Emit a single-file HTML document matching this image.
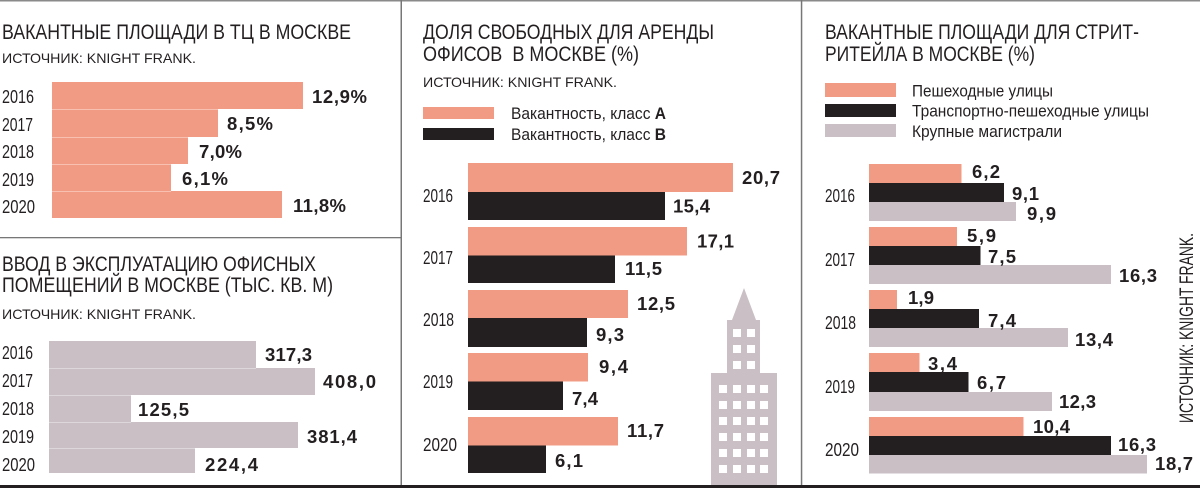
<!DOCTYPE html>
<html><head><meta charset="utf-8">
<style>
html,body{margin:0;padding:0;background:#fff;}
svg{display:block;}
text{font-family:"Liberation Sans Narrow","Liberation Sans",sans-serif;fill:#231f20;white-space:pre;}
.t{font-size:21px;}
.s{font-size:14px;}
.y{font-size:18px;}
.v{font-size:18.5px;font-weight:bold;font-family:"Liberation Sans",sans-serif;}
.l{font-size:16.5px;}
</style></head>
<body>
<svg width="1200" height="488" viewBox="0 0 1200 488" xmlns="http://www.w3.org/2000/svg">
<rect x="0" y="0" width="1200" height="488" fill="#fff"/>
<!-- frame lines -->
<rect x="0" y="0" width="1200" height="1.5" fill="#8a8a8a"/>
<rect x="400.5" y="0" width="1.5" height="486" fill="#777"/>
<rect x="800.8" y="0" width="1.5" height="486" fill="#777"/>
<rect x="0" y="237" width="401" height="1.3" fill="#777"/>
<rect x="0" y="485" width="1200" height="3" fill="#231f20"/>

<!-- PANEL 1 -->
<text class="t" x="2" y="39" textLength="349" lengthAdjust="spacingAndGlyphs">ВАКАНТНЫЕ ПЛОЩАДИ В ТЦ В МОСКВЕ</text>
<text class="s" x="2" y="63" textLength="194" lengthAdjust="spacingAndGlyphs">ИСТОЧНИК: KNIGHT FRANK.</text>
<g fill="#f29b84">
<rect x="52" y="82" width="251" height="27"/>
<rect x="52" y="109" width="166" height="28"/>
<rect x="52" y="137" width="136" height="27"/>
<rect x="52" y="164" width="119" height="27"/>
<rect x="52" y="191" width="230" height="27"/>
</g>
<g fill="#f7c0b0">
<rect x="52" y="109" width="166" height="1"/>
<rect x="52" y="137" width="136" height="1"/>
<rect x="52" y="164" width="119" height="1"/>
<rect x="52" y="191" width="119" height="1"/>
</g>
<text class="y" x="2" y="103" textLength="32" lengthAdjust="spacingAndGlyphs">2016</text>
<text class="y" x="2" y="131" textLength="31" lengthAdjust="spacingAndGlyphs">2017</text>
<text class="y" x="2" y="158" textLength="32" lengthAdjust="spacingAndGlyphs">2018</text>
<text class="y" x="2" y="186" textLength="32" lengthAdjust="spacingAndGlyphs">2019</text>
<text class="y" x="2" y="213" textLength="33" lengthAdjust="spacingAndGlyphs">2020</text>
<text class="v" x="312" y="103" textLength="55" lengthAdjust="spacing">12,9%</text>
<text class="v" x="227" y="130" textLength="46" lengthAdjust="spacing">8,5%</text>
<text class="v" x="199" y="158" textLength="43" lengthAdjust="spacing">7,0%</text>
<text class="v" x="182" y="185" textLength="46" lengthAdjust="spacing">6,1%</text>
<text class="v" x="293" y="212" textLength="53" lengthAdjust="spacing">11,8%</text>

<!-- PANEL 2 -->
<text class="t" x="2" y="271" textLength="314" lengthAdjust="spacingAndGlyphs">ВВОД В ЭКСПЛУАТАЦИЮ ОФИСНЫХ</text>
<text class="t" x="2" y="292" textLength="331" lengthAdjust="spacingAndGlyphs">ПОМЕЩЕНИЙ В МОСКВЕ (ТЫС. КВ. М)</text>
<text class="s" x="2" y="319" textLength="194" lengthAdjust="spacingAndGlyphs">ИСТОЧНИК: KNIGHT FRANK.</text>
<g fill="#c9bfc4">
<rect x="49" y="341" width="207" height="27"/>
<rect x="49" y="368" width="266" height="27"/>
<rect x="49" y="395" width="82" height="27"/>
<rect x="49" y="422" width="249" height="26"/>
<rect x="49" y="448" width="146" height="25"/>
</g>
<g fill="#ddd6da">
<rect x="49" y="368" width="207" height="1"/>
<rect x="49" y="395" width="82" height="1"/>
<rect x="49" y="422" width="82" height="1"/>
<rect x="49" y="448" width="146" height="1"/>
</g>
<text class="y" x="2" y="359" textLength="31" lengthAdjust="spacingAndGlyphs">2016</text>
<text class="y" x="2" y="387" textLength="31" lengthAdjust="spacingAndGlyphs">2017</text>
<text class="y" x="2" y="415" textLength="32" lengthAdjust="spacingAndGlyphs">2018</text>
<text class="y" x="2" y="443" textLength="32" lengthAdjust="spacingAndGlyphs">2019</text>
<text class="y" x="2" y="471" textLength="33" lengthAdjust="spacingAndGlyphs">2020</text>
<text class="v" x="265" y="361" textLength="47" lengthAdjust="spacing">317,3</text>
<text class="v" x="323" y="388" textLength="53" lengthAdjust="spacing">408,0</text>
<text class="v" x="138" y="416" textLength="51" lengthAdjust="spacing">125,5</text>
<text class="v" x="307" y="443" textLength="50" lengthAdjust="spacing">381,4</text>
<text class="v" x="205" y="471" textLength="53" lengthAdjust="spacing">224,4</text>

<!-- PANEL 3 -->
<text class="t" x="423" y="39" textLength="291" lengthAdjust="spacingAndGlyphs">ДОЛЯ СВОБОДНЫХ ДЛЯ АРЕНДЫ</text>
<text class="t" x="423" y="61" textLength="216" lengthAdjust="spacingAndGlyphs">ОФИСОВ  В МОСКВЕ (%)</text>
<text class="s" x="423" y="87" textLength="194" lengthAdjust="spacingAndGlyphs">ИСТОЧНИК: KNIGHT FRANK.</text>
<rect x="423" y="107" width="71" height="12" fill="#f29b84"/>
<rect x="423" y="128" width="71" height="12" fill="#231f20"/>
<text class="l" x="511" y="119" textLength="155" lengthAdjust="spacingAndGlyphs">Вакантность, класс <tspan font-weight="bold">A</tspan></text>
<text class="l" x="511" y="140" textLength="155" lengthAdjust="spacingAndGlyphs">Вакантность, класс <tspan font-weight="bold">B</tspan></text>

<g fill="#f29b84">
<rect x="468" y="163" width="265" height="29"/>
<rect x="468" y="227" width="219" height="28.5"/>
<rect x="468" y="290" width="160" height="28"/>
<rect x="468" y="353" width="120" height="28.5"/>
<rect x="468" y="417" width="150" height="28.5"/>
</g>
<g fill="#231f20">
<rect x="468" y="192" width="197" height="28"/>
<rect x="468" y="255.5" width="147" height="27.5"/>
<rect x="468" y="318" width="119" height="29"/>
<rect x="468" y="381.5" width="95" height="28.5"/>
<rect x="468" y="445.5" width="78" height="27.5"/>
</g>
<text class="y" x="423" y="202" textLength="30" lengthAdjust="spacingAndGlyphs">2016</text>
<text class="y" x="423" y="264" textLength="30" lengthAdjust="spacingAndGlyphs">2017</text>
<text class="y" x="423" y="326" textLength="31" lengthAdjust="spacingAndGlyphs">2018</text>
<text class="y" x="423" y="388" textLength="30" lengthAdjust="spacingAndGlyphs">2019</text>
<text class="y" x="423" y="451" textLength="34" lengthAdjust="spacingAndGlyphs">2020</text>
<text class="v" x="742" y="184" textLength="38" lengthAdjust="spacing">20,7</text>
<text class="v" x="673" y="212.5" textLength="37" lengthAdjust="spacing">15,4</text>
<text class="v" x="697" y="247.5" textLength="37" lengthAdjust="spacing">17,1</text>
<text class="v" x="625" y="275" textLength="37" lengthAdjust="spacing">11,5</text>
<text class="v" x="637" y="310" textLength="38" lengthAdjust="spacing">12,5</text>
<text class="v" x="596" y="341" textLength="28" lengthAdjust="spacing">9,3</text>
<text class="v" x="599" y="373" textLength="29" lengthAdjust="spacing">9,4</text>
<text class="v" x="572" y="405" textLength="26" lengthAdjust="spacing">7,4</text>
<text class="v" x="627" y="437" textLength="37" lengthAdjust="spacing">11,7</text>
<text class="v" x="555" y="467" textLength="28" lengthAdjust="spacing">6,1</text>

<!-- building -->
<g fill="#c9bfc4">
<polygon points="744,288 756,320 732,320"/>
<rect x="727" y="320" width="33" height="54"/>
<rect x="711" y="373" width="66" height="112"/>
</g>
<g fill="#fff">
<rect x="733" y="329" width="8" height="8"/><rect x="747" y="329" width="8" height="8"/>
<rect x="733" y="345" width="8" height="8"/><rect x="747" y="345" width="8" height="8"/>
<rect x="733" y="361" width="8" height="8"/><rect x="747" y="361" width="8" height="8"/>
<rect x="719" y="385" width="8" height="8"/><rect x="733" y="385" width="8" height="8"/><rect x="747" y="385" width="8" height="8"/><rect x="760" y="385" width="8" height="8"/>
<rect x="719" y="401" width="8" height="8"/><rect x="733" y="401" width="8" height="8"/><rect x="747" y="401" width="8" height="8"/><rect x="760" y="401" width="8" height="8"/>
<rect x="719" y="417" width="8" height="8"/><rect x="733" y="417" width="8" height="8"/><rect x="747" y="417" width="8" height="8"/><rect x="760" y="417" width="8" height="8"/>
<rect x="719" y="433" width="8" height="8"/><rect x="733" y="433" width="8" height="8"/><rect x="747" y="433" width="8" height="8"/><rect x="760" y="433" width="8" height="8"/>
<rect x="719" y="449" width="8" height="8"/><rect x="733" y="449" width="8" height="8"/><rect x="747" y="449" width="8" height="8"/><rect x="760" y="449" width="8" height="8"/>
<rect x="719" y="465" width="8" height="8"/><rect x="733" y="465" width="8" height="8"/><rect x="747" y="465" width="8" height="8"/><rect x="760" y="465" width="8" height="8"/>
</g>

<!-- PANEL 4 -->
<text class="t" x="825" y="39" textLength="314" lengthAdjust="spacingAndGlyphs">ВАКАНТНЫЕ ПЛОЩАДИ ДЛЯ СТРИТ-</text>
<text class="t" x="825" y="61" textLength="210" lengthAdjust="spacingAndGlyphs">РИТЕЙЛА В МОСКВЕ (%)</text>
<rect x="825" y="83" width="71" height="14" fill="#f29b84"/>
<rect x="825" y="104" width="71" height="13" fill="#231f20"/>
<rect x="825" y="124" width="71" height="13" fill="#c9bfc4"/>
<text class="l" x="912" y="96.5" textLength="141" lengthAdjust="spacingAndGlyphs">Пешеходные улицы</text>
<text class="l" x="912" y="116.5" textLength="237" lengthAdjust="spacingAndGlyphs">Транспортно-пешеходные улицы</text>
<text class="l" x="912" y="137" textLength="150" lengthAdjust="spacingAndGlyphs">Крупные магистрали</text>

<g fill="#f29b84">
<rect x="869" y="164" width="92.5" height="19"/>
<rect x="869" y="227" width="88" height="19"/>
<rect x="869" y="290" width="28" height="19"/>
<rect x="869" y="353" width="50.5" height="19"/>
<rect x="869" y="417" width="154.5" height="19"/>
</g>
<g fill="#231f20">
<rect x="869" y="183" width="135" height="19"/>
<rect x="869" y="246" width="111.5" height="19"/>
<rect x="869" y="309" width="110" height="19"/>
<rect x="869" y="372" width="99.5" height="20"/>
<rect x="869" y="436" width="242" height="19"/>
</g>
<g fill="#c9bfc4">
<rect x="869" y="202" width="147" height="19"/>
<rect x="869" y="265" width="242" height="19"/>
<rect x="869" y="328" width="199" height="19"/>
<rect x="869" y="392" width="183" height="19"/>
<rect x="869" y="455" width="278" height="18.5"/>
</g>
<text class="y" x="825" y="202" textLength="30" lengthAdjust="spacingAndGlyphs">2016</text>
<text class="y" x="825" y="266" textLength="30" lengthAdjust="spacingAndGlyphs">2017</text>
<text class="y" x="825" y="329" textLength="31" lengthAdjust="spacingAndGlyphs">2018</text>
<text class="y" x="825" y="393" textLength="30" lengthAdjust="spacingAndGlyphs">2019</text>
<text class="y" x="825" y="456" textLength="34" lengthAdjust="spacingAndGlyphs">2020</text>
<text class="v" x="972" y="178" textLength="28" lengthAdjust="spacing">6,2</text>
<text class="v" x="1012" y="200" textLength="27" lengthAdjust="spacing">9,1</text>
<text class="v" x="1027" y="220" textLength="29" lengthAdjust="spacing">9,9</text>
<text class="v" x="967" y="242" textLength="29" lengthAdjust="spacing">5,9</text>
<text class="v" x="988" y="263" textLength="28" lengthAdjust="spacing">7,5</text>
<text class="v" x="1119" y="282" textLength="38" lengthAdjust="spacing">16,3</text>
<text class="v" x="908" y="304" textLength="26" lengthAdjust="spacing">1,9</text>
<text class="v" x="988" y="327" textLength="28" lengthAdjust="spacing">7,4</text>
<text class="v" x="1075" y="346" textLength="38" lengthAdjust="spacing">13,4</text>
<text class="v" x="928" y="370" textLength="29" lengthAdjust="spacing">3,4</text>
<text class="v" x="977" y="389" textLength="29" lengthAdjust="spacing">6,7</text>
<text class="v" x="1059" y="408" textLength="37" lengthAdjust="spacing">12,3</text>
<text class="v" x="1033" y="433" textLength="37" lengthAdjust="spacing">10,4</text>
<text class="v" x="1118" y="451" textLength="38" lengthAdjust="spacing">16,3</text>
<text class="v" x="1155" y="470" textLength="38" lengthAdjust="spacing">18,7</text>
<text x="0" y="0" transform="translate(1193,423) rotate(-90)" style="font-size:19.5px" textLength="190" lengthAdjust="spacingAndGlyphs">ИСТОЧНИК: KNIGHT FRANK.</text>
</svg>
</body></html>
